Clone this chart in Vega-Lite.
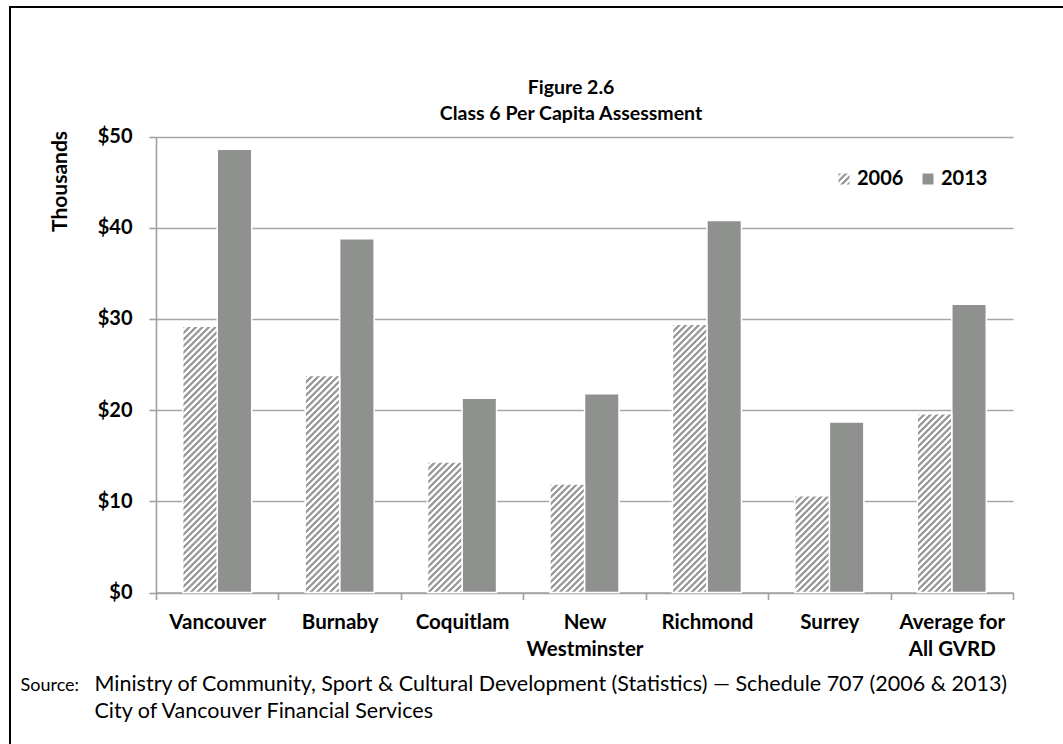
{
  "$schema": "https://vega.github.io/schema/vega-lite/v6.json",
  "autosize": "none",
  "width": 1053,
  "height": 737,
  "padding": {"left": 10, "top": 7, "right": 0, "bottom": 0},
  "background": "white",
  "params": [
    {"name": "stripes", "value": [
      {"offset":0,"color":"#999"},{"offset":0.0073,"color":"#999"},{"offset":0.0104,"color":"#fff"},{"offset":0.0177,"color":"#fff"},
      {"offset":0.0208,"color":"#999"},{"offset":0.0281,"color":"#999"},{"offset":0.0312,"color":"#fff"},{"offset":0.0385,"color":"#fff"},
      {"offset":0.0417,"color":"#999"},{"offset":0.0490,"color":"#999"},{"offset":0.0521,"color":"#fff"},{"offset":0.0594,"color":"#fff"},
      {"offset":0.0625,"color":"#999"},{"offset":0.0698,"color":"#999"},{"offset":0.0729,"color":"#fff"},{"offset":0.0802,"color":"#fff"},
      {"offset":0.0833,"color":"#999"},{"offset":0.0906,"color":"#999"},{"offset":0.0937,"color":"#fff"},{"offset":0.1010,"color":"#fff"},
      {"offset":0.1042,"color":"#999"},{"offset":0.1115,"color":"#999"},{"offset":0.1146,"color":"#fff"},{"offset":0.1219,"color":"#fff"},
      {"offset":0.125,"color":"#999"},{"offset":0.1323,"color":"#999"},{"offset":0.1354,"color":"#fff"},{"offset":0.1427,"color":"#fff"},
      {"offset":0.1458,"color":"#999"},{"offset":0.1531,"color":"#999"},{"offset":0.1562,"color":"#fff"},{"offset":0.1635,"color":"#fff"},
      {"offset":0.1667,"color":"#999"},{"offset":0.1740,"color":"#999"},{"offset":0.1771,"color":"#fff"},{"offset":0.1844,"color":"#fff"},
      {"offset":0.1875,"color":"#999"},{"offset":0.1948,"color":"#999"},{"offset":0.1979,"color":"#fff"},{"offset":0.2052,"color":"#fff"},
      {"offset":0.2083,"color":"#999"},{"offset":0.2156,"color":"#999"},{"offset":0.2187,"color":"#fff"},{"offset":0.2260,"color":"#fff"},
      {"offset":0.2292,"color":"#999"},{"offset":0.2365,"color":"#999"},{"offset":0.2396,"color":"#fff"},{"offset":0.2469,"color":"#fff"},
      {"offset":0.25,"color":"#999"},{"offset":0.2573,"color":"#999"},{"offset":0.2604,"color":"#fff"},{"offset":0.2677,"color":"#fff"},
      {"offset":0.2708,"color":"#999"},{"offset":0.2781,"color":"#999"},{"offset":0.2812,"color":"#fff"},{"offset":0.2885,"color":"#fff"},
      {"offset":0.2917,"color":"#999"},{"offset":0.2990,"color":"#999"},{"offset":0.3021,"color":"#fff"},{"offset":0.3094,"color":"#fff"},
      {"offset":0.3125,"color":"#999"},{"offset":0.3198,"color":"#999"},{"offset":0.3229,"color":"#fff"},{"offset":0.3302,"color":"#fff"},
      {"offset":0.3333,"color":"#999"},{"offset":0.3406,"color":"#999"},{"offset":0.3437,"color":"#fff"},{"offset":0.3510,"color":"#fff"},
      {"offset":0.3542,"color":"#999"},{"offset":0.3615,"color":"#999"},{"offset":0.3646,"color":"#fff"},{"offset":0.3719,"color":"#fff"},
      {"offset":0.375,"color":"#999"},{"offset":0.3823,"color":"#999"},{"offset":0.3854,"color":"#fff"},{"offset":0.3927,"color":"#fff"},
      {"offset":0.3958,"color":"#999"},{"offset":0.4031,"color":"#999"},{"offset":0.4062,"color":"#fff"},{"offset":0.4135,"color":"#fff"},
      {"offset":0.4167,"color":"#999"},{"offset":0.4240,"color":"#999"},{"offset":0.4271,"color":"#fff"},{"offset":0.4344,"color":"#fff"},
      {"offset":0.4375,"color":"#999"},{"offset":0.4448,"color":"#999"},{"offset":0.4479,"color":"#fff"},{"offset":0.4552,"color":"#fff"},
      {"offset":0.4583,"color":"#999"},{"offset":0.4656,"color":"#999"},{"offset":0.4687,"color":"#fff"},{"offset":0.4760,"color":"#fff"},
      {"offset":0.4792,"color":"#999"},{"offset":0.4865,"color":"#999"},{"offset":0.4896,"color":"#fff"},{"offset":0.4969,"color":"#fff"},
      {"offset":0.5,"color":"#999"},{"offset":0.5073,"color":"#999"},{"offset":0.5104,"color":"#fff"},{"offset":0.5177,"color":"#fff"},
      {"offset":0.5208,"color":"#999"},{"offset":0.5281,"color":"#999"},{"offset":0.5312,"color":"#fff"},{"offset":0.5385,"color":"#fff"},
      {"offset":0.5417,"color":"#999"},{"offset":0.5490,"color":"#999"},{"offset":0.5521,"color":"#fff"},{"offset":0.5594,"color":"#fff"},
      {"offset":0.5625,"color":"#999"},{"offset":0.5698,"color":"#999"},{"offset":0.5729,"color":"#fff"},{"offset":0.5802,"color":"#fff"},
      {"offset":0.5833,"color":"#999"},{"offset":0.5906,"color":"#999"},{"offset":0.5937,"color":"#fff"},{"offset":0.6010,"color":"#fff"},
      {"offset":0.6042,"color":"#999"},{"offset":0.6115,"color":"#999"},{"offset":0.6146,"color":"#fff"},{"offset":0.6219,"color":"#fff"},
      {"offset":0.625,"color":"#999"},{"offset":0.6323,"color":"#999"},{"offset":0.6354,"color":"#fff"},{"offset":0.6427,"color":"#fff"},
      {"offset":0.6458,"color":"#999"},{"offset":0.6531,"color":"#999"},{"offset":0.6562,"color":"#fff"},{"offset":0.6635,"color":"#fff"},
      {"offset":0.6667,"color":"#999"},{"offset":0.6740,"color":"#999"},{"offset":0.6771,"color":"#fff"},{"offset":0.6844,"color":"#fff"},
      {"offset":0.6875,"color":"#999"},{"offset":0.6948,"color":"#999"},{"offset":0.6979,"color":"#fff"},{"offset":0.7052,"color":"#fff"},
      {"offset":0.7083,"color":"#999"},{"offset":0.7156,"color":"#999"},{"offset":0.7187,"color":"#fff"},{"offset":0.7260,"color":"#fff"},
      {"offset":0.7292,"color":"#999"},{"offset":0.7365,"color":"#999"},{"offset":0.7396,"color":"#fff"},{"offset":0.7469,"color":"#fff"},
      {"offset":0.75,"color":"#999"},{"offset":0.7573,"color":"#999"},{"offset":0.7604,"color":"#fff"},{"offset":0.7677,"color":"#fff"},
      {"offset":0.7708,"color":"#999"},{"offset":0.7781,"color":"#999"},{"offset":0.7812,"color":"#fff"},{"offset":0.7885,"color":"#fff"},
      {"offset":0.7917,"color":"#999"},{"offset":0.7990,"color":"#999"},{"offset":0.8021,"color":"#fff"},{"offset":0.8094,"color":"#fff"},
      {"offset":0.8125,"color":"#999"},{"offset":0.8198,"color":"#999"},{"offset":0.8229,"color":"#fff"},{"offset":0.8302,"color":"#fff"},
      {"offset":0.8333,"color":"#999"},{"offset":0.8406,"color":"#999"},{"offset":0.8437,"color":"#fff"},{"offset":0.8510,"color":"#fff"},
      {"offset":0.8542,"color":"#999"},{"offset":0.8615,"color":"#999"},{"offset":0.8646,"color":"#fff"},{"offset":0.8719,"color":"#fff"},
      {"offset":0.875,"color":"#999"},{"offset":0.8823,"color":"#999"},{"offset":0.8854,"color":"#fff"},{"offset":0.8927,"color":"#fff"},
      {"offset":0.8958,"color":"#999"},{"offset":0.9031,"color":"#999"},{"offset":0.9062,"color":"#fff"},{"offset":0.9135,"color":"#fff"},
      {"offset":0.9167,"color":"#999"},{"offset":0.9240,"color":"#999"},{"offset":0.9271,"color":"#fff"},{"offset":0.9344,"color":"#fff"},
      {"offset":0.9375,"color":"#999"},{"offset":0.9448,"color":"#999"},{"offset":0.9479,"color":"#fff"},{"offset":0.9552,"color":"#fff"},
      {"offset":0.9583,"color":"#999"},{"offset":0.9656,"color":"#999"},{"offset":0.9687,"color":"#fff"},{"offset":0.9760,"color":"#fff"},
      {"offset":0.9792,"color":"#999"},{"offset":0.9865,"color":"#999"},{"offset":0.9896,"color":"#fff"},{"offset":0.9969,"color":"#fff"},
      {"offset":1,"color":"#999"}
    ]}
  ],
  "title": {
    "text": ["Figure 2.6", "Class 6 Per Capita Assessment"],
    "anchor": "middle",
    "frame": "group",
    "orient": "top",
    "baseline": "alphabetic",
    "offset": 0,
    "dx": 34.5,
    "dy": 132,
    "lineHeight": 26,
    "font": "Lato",
    "fontSize": 19.5,
    "fontWeight": "bold",
    "color": "black"
  },
  "data": {"values": [
    {"city": "Vancouver", "year": "2006", "value": 29.2},
    {"city": "Vancouver", "year": "2013", "value": 48.6},
    {"city": "Burnaby", "year": "2006", "value": 23.8},
    {"city": "Burnaby", "year": "2013", "value": 38.8},
    {"city": "Coquitlam", "year": "2006", "value": 14.3},
    {"city": "Coquitlam", "year": "2013", "value": 21.3},
    {"city": "New Westminster", "year": "2006", "value": 11.9},
    {"city": "New Westminster", "year": "2013", "value": 21.8},
    {"city": "Richmond", "year": "2006", "value": 29.4},
    {"city": "Richmond", "year": "2013", "value": 40.8},
    {"city": "Surrey", "year": "2006", "value": 10.6},
    {"city": "Surrey", "year": "2013", "value": 18.7},
    {"city": "Average for All GVRD", "year": "2006", "value": 19.6},
    {"city": "Average for All GVRD", "year": "2013", "value": 31.6}
  ]},
  "encoding": {
    "xOffset": {
      "field": "year",
      "type": "nominal",
      "scale": {"domain": ["2006", "2013"], "paddingInner": 0, "paddingOuter": 0.774}
    },
    "y": {
      "field": "value",
      "type": "quantitative",
      "scale": {"domain": [0, 50], "range": [585.5, 129.5], "nice": false, "zero": true},
      "axis": {
        "offset": -146,
        "values": [0, 10, 20, 30, 40, 50],
        "labelExpr": "'$' + datum.value",
        "tickSize": 7,
        "labelPadding": 17,
        "labelFontSize": 20,
        "grid": true,
        "title": "Thousands",
        "titleX": -96,
        "titleY": 174,
        "titleAngle": -90,
        "titleAlign": "center",
        "titleAnchor": null,
        "titleBaseline": "middle",
        "titleFont": "Lato",
        "titleFontSize": 21,
        "titleFontWeight": "bold",
        "titleColor": "black"
      }
    },
    "fill": {"value": {"expr": "datum.year ? (datum.year === '2006' ? {gradient: 'linear', x1: 0, y1: 0, x2: 34.5*312/(1190.25+pow(datum.value*9.12,2)), y2: datum.value*9.12*312/(1190.25+pow(datum.value*9.12,2)), stops: stripes} : '#8f918f') : (datum.value == '2006' ? {gradient: 'linear', x1: 0, y1: 0, x2: 14.18, y2: 14.18, stops: stripes} : '#8f918f')"}}
  },
  "layer": [
    {
      "transform": [{"filter": "datum.year === '2013'"}],
      "mark": {"type": "bar", "stroke": "white", "strokeWidth": 1.5},
      "encoding": {
        "x": {
          "field": "city",
          "type": "nominal",
          "sort": ["Vancouver", "Burnaby", "Coquitlam", "New Westminster", "Richmond", "Surrey", "Average for All GVRD"],
          "scale": {"range": [146, 1003], "paddingInner": 0, "paddingOuter": 0},
          "axis": {
            "orient": "bottom",
            "offset": -151.5,
            "tickBand": "extent",
            "tickSize": 7,
            "labelPadding": 13,
            "labelAngle": 0,
            "labelLimit": 0,
            "labelFontSize": 20.5,
            "labelLineHeight": 27,
            "labelExpr": "datum.value === 'New Westminster' ? ['New', 'Westminster'] : datum.value === 'Average for All GVRD' ? ['Average for', 'All GVRD'] : datum.value",
            "title": "Source:",
            "titleX": 10,
            "titleY": 97.5,
            "titleAlign": "left",
            "titleAnchor": "start",
            "titleBaseline": "alphabetic",
            "titleFont": "Lato",
            "titleFontSize": 18,
            "titleFontWeight": "normal",
            "titleColor": "black"
          }
        },
        "opacity": {
          "field": "year",
          "type": "ordinal",
          "scale": {"domain": ["2006", "2013"], "range": [1, 1]},
          "legend": {
            "orient": "none",
            "legendX": 824,
            "legendY": 162,
            "direction": "horizontal",
            "title": null,
            "symbolType": "square",
            "symbolSize": 121,
            "symbolStrokeWidth": 0,
            "symbolOpacity": 1,
            "labelFont": "Lato",
            "labelFontSize": 20,
            "labelFontWeight": "bold",
            "labelColor": "black",
            "labelOffset": 3,
            "columnPadding": 14
          }
        }
      }
    },
    {
      "transform": [{"filter": "datum.year === '2006'"}],
      "mark": {"type": "bar", "stroke": "white", "strokeWidth": 1.5},
      "encoding": {
        "x": {
          "field": "city",
          "type": "nominal",
          "sort": ["Vancouver", "Burnaby", "Coquitlam", "New Westminster", "Richmond", "Surrey", "Average for All GVRD"],
          "axis": {
            "orient": "bottom",
            "offset": -151.5,
            "domain": false,
            "ticks": false,
            "labels": false,
            "grid": false,
            "title": ["Ministry of Community, Sport & Cultural Development (Statistics) \u2014 Schedule 707 (2006 & 2013)", "City of Vancouver Financial Services"],
            "titleX": 84,
            "titleY": 97.5,
            "titleAlign": "left",
            "titleAnchor": "start",
            "titleBaseline": "alphabetic",
            "titleLineHeight": 27,
            "titleFont": "Lato",
            "titleFontSize": 21.5,
            "titleFontWeight": "normal",
            "titleColor": "black"
          }
        }
      }
    }
  ],
  "resolve": {"axis": {"x": "independent"}},
  "config": {
    "view": {"stroke": "black", "strokeWidth": 2, "strokeDash": [1053, 1790, 737]},
    "font": "Lato",
    "axis": {
      "domainColor": "#a0a0a0",
      "domainWidth": 1.6,
      "tickColor": "#a0a0a0",
      "tickWidth": 1.6,
      "gridColor": "#a6a6a6",
      "gridWidth": 1.6,
      "labelFont": "Lato",
      "labelFontSize": 19,
      "labelFontWeight": "bold",
      "labelColor": "black"
    }
  }
}
